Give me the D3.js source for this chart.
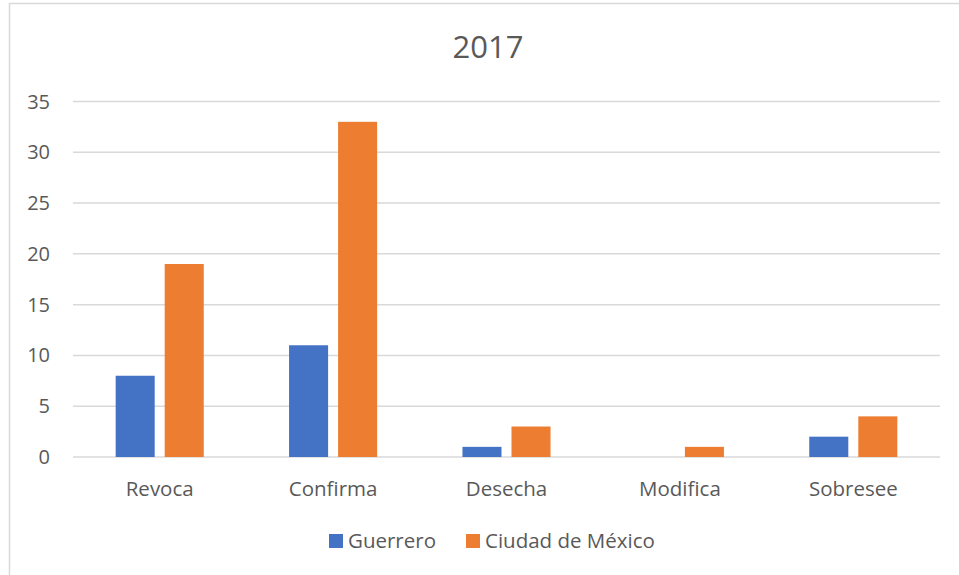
<!DOCTYPE html>
<html>
<head>
<meta charset="utf-8">
<script src="https://cdn.jsdelivr.net/npm/d3@7"></script>
<style>
  body { margin: 0; background: #fff; }
  text { font-family: "Open Sans", "Liberation Sans", sans-serif; fill: #595959; }
</style>
</head>
<body>
<svg width="959" height="575"></svg>
<script>
var categories = ["Revoca", "Confirma", "Desecha", "Modifica", "Sobresee"];
var seriesNames = ["Guerrero", "Ciudad de México"];
var guerrero = [8, 11, 1, 0, 2];
var cdmx = [19, 33, 3, 1, 4];
var yTicks = [0, 5, 10, 15, 20, 25, 30, 35];
var colors = ["#4472C4", "#ED7D31"];

var svg = d3.select("svg");
var margin = {top: 101.5, left: 73, right: 19, bottom: 118};
var width = 959 - margin.left - margin.right;
var height = 575 - margin.top - margin.bottom;

// chart frame
svg.append("rect")
    .attr("x", 9.5).attr("y", 3.5)
    .attr("width", 980).attr("height", 600)
    .attr("fill", "none").attr("stroke", "#d9d9d9").attr("stroke-width", 1.5);

svg.append("text")
    .attr("x", 488).attr("y", 58)
    .attr("text-anchor", "middle")
    .style("font-size", "31px")
    .text("2017");

var g = svg.append("g").attr("transform", "translate(" + margin.left + "," + margin.top + ")");

var x = d3.scaleBand().domain(categories).range([0, width]);
var y = d3.scaleLinear().domain([0, 35]).range([height, 0]);
var x1 = d3.scaleBand().domain(seriesNames).range([0, x.bandwidth()]).paddingInner(0.204).paddingOuter(0.87);

// gridlines
g.selectAll(".grid").data(yTicks).enter().append("line")
    .attr("x1", 0).attr("x2", width)
    .attr("y1", function(d) { return y(d); })
    .attr("y2", function(d) { return y(d); })
    .attr("stroke", "#d9d9d9").attr("stroke-width", 1.5);

// y labels
g.selectAll(".ylab").data(yTicks).enter().append("text")
    .attr("x", -23)
    .attr("y", function(d) { return y(d); })
    .attr("dy", "0.35em")
    .attr("text-anchor", "end")
    .style("font-size", "20px")
    .text(function(d) { return d; });

// bars
var rows = categories.map(function(c, i) { return {cat: c, vals: [guerrero[i], cdmx[i]]}; });
var grp = g.selectAll(".cat").data(rows).enter().append("g")
    .attr("transform", function(d) { return "translate(" + x(d.cat) + ",0)"; });
grp.selectAll("rect").data(function(d) {
        return d.vals.map(function(v, j) { return {name: seriesNames[j], v: v, j: j}; });
    })
    .enter().append("rect")
    .attr("x", function(d) { return x1(d.name); })
    .attr("width", x1.bandwidth())
    .attr("y", function(d) { return y(d.v); })
    .attr("height", function(d) { return height - y(d.v); })
    .attr("fill", function(d) { return colors[d.j]; });

// x labels
g.selectAll(".xlab").data(categories).enter().append("text")
    .attr("x", function(d) { return x(d) + x.bandwidth() / 2; })
    .attr("y", height + 39)
    .attr("text-anchor", "middle")
    .style("font-size", "20.5px")
    .text(function(d) { return d; });

// legend
var legendX = [329, 466];
var leg = svg.selectAll(".leg").data(seriesNames).enter().append("g")
    .attr("transform", function(d, i) { return "translate(" + legendX[i] + ",534)"; });
leg.append("rect").attr("width", 14).attr("height", 14)
    .attr("fill", function(d, i) { return colors[i]; });
leg.append("text").attr("x", 19).attr("y", 7).attr("dy", "0.35em")
    .style("font-size", "20.5px")
    .text(function(d) { return d; });
</script>
</body>
</html>
